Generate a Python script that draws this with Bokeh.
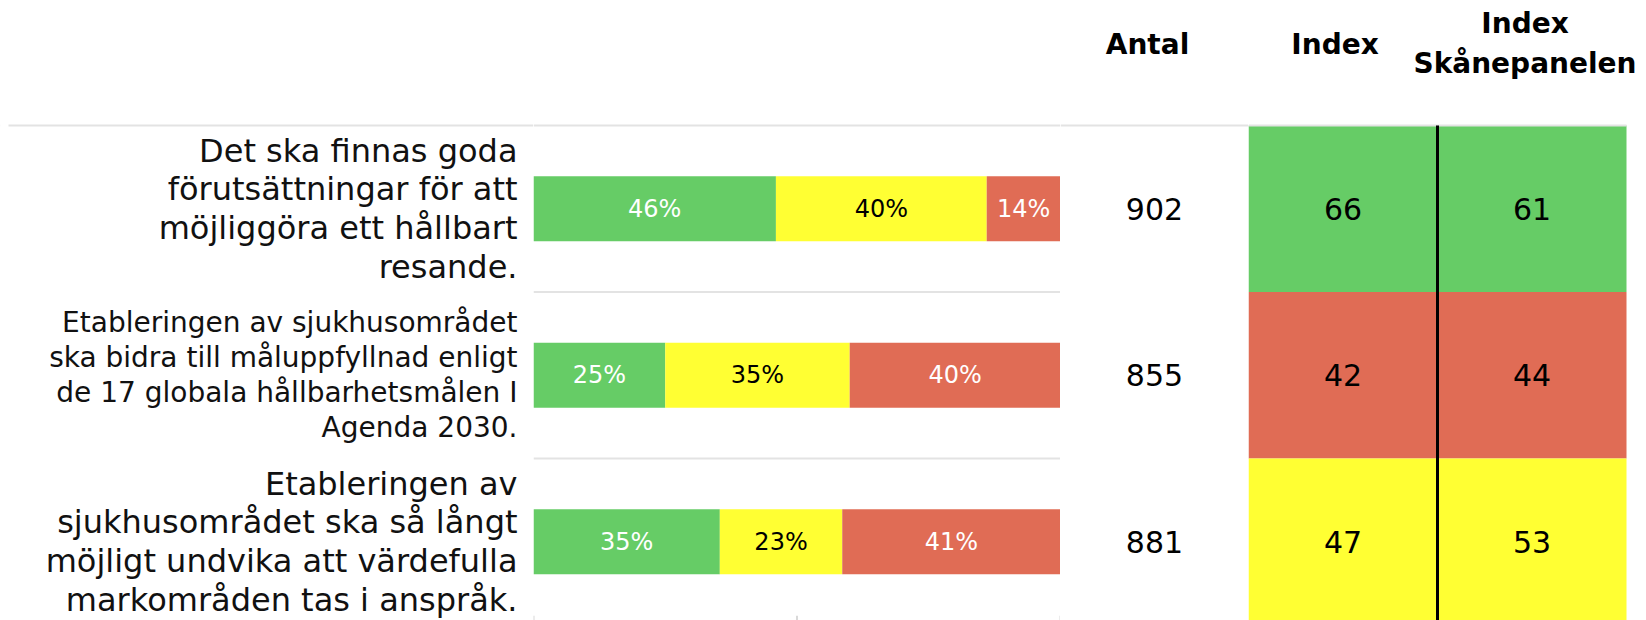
from bokeh.plotting import figure
from bokeh.layouts import row
from bokeh.models import Range1d, Span
from bokeh.core.properties import value
from bokeh.embed import file_html
from bokeh.resources import INLINE

# ---------------- data ----------------
statements = [
    "Det ska finnas goda\nförutsättningar för att\nmöjliggöra ett hållbart\nresande.",
    "Etableringen av sjukhusområdet\nska bidra till måluppfyllnad enligt\nde 17 globala hållbarhetsmålen I\nAgenda 2030.",
    "Etableringen av\nsjukhusområdet ska så långt\nmöjligt undvika att värdefulla\nmarkområden tas i anspråk.",
]
label_sizes = ["32px", "28px", "32px"]
label_line_heights = [1.02, 1.065, 1.02]
positive = [46, 25, 35]
neutral = [40, 35, 23]
negative = [14, 40, 41]
antal = [902, 855, 881]
index_vals = [66, 42, 47]
index_skane = [61, 44, 53]
col_headers = ["Antal", "Index", "Index", "Skånepanelen"]
axis_ticks = [0, 0.5, 1]

GREEN = "#66CC66"
YELLOW = "#FFFF33"
RED = "#E06C55"
GRID = "#E3E3E3"
FONT = "DejaVu Sans"

n = len(statements)
rows_y = [i + 0.5 for i in range(n)]
H = 620
y_rng = Range1d(start=2.973, end=-0.751)


def make_fig(w, xr):
    p = figure(width=w, height=H, x_range=xr, y_range=y_rng,
               toolbar_location=None, output_backend="svg",
               x_axis_location=None, y_axis_location=None, min_border=0)
    p.grid.visible = False
    p.outline_line_color = None
    return p


# ---------------- labels ----------------
pl = make_fig(533, Range1d(0, 533))
pl.add_layout(Span(location=0, dimension="width", line_color=GRID, line_width=2))
pl.add_layout(Span(location=0, dimension="height", line_color="white", line_width=16))
for i in range(n):
    pl.text(x=[517], y=[rows_y[i]], text=[statements[i]], text_font=value(FONT),
            text_font_size=label_sizes[i], text_align="right", text_baseline="middle",
            text_line_height=label_line_heights[i], text_color="#111111")

# ---------------- bars ----------------
pb = make_fig(527, Range1d(0, 1))
for b in range(n):
    pb.add_layout(Span(location=b, dimension="width", line_color=GRID, line_width=2))
tot = [p_ + u_ + n_ for p_, u_, n_ in zip(positive, neutral, negative)]
g_r = [p_ / t for p_, t in zip(positive, tot)]
y_r = [g + u_ / t for g, u_, t in zip(g_r, neutral, tot)]
r_r = [yy + n_ / t for yy, n_, t in zip(y_r, negative, tot)]
bh = 0.39
pb.hbar(y=rows_y, left=[0] * n, right=g_r, height=bh, fill_color=GREEN, line_color=None)
pb.hbar(y=rows_y, left=g_r, right=y_r, height=bh, fill_color=YELLOW, line_color=None)
pb.hbar(y=rows_y, left=y_r, right=r_r, height=bh, fill_color=RED, line_color=None)
seg_x = [g / 2 for g in g_r] + [(g + yy) / 2 for g, yy in zip(g_r, y_r)] + \
        [(yy + r) / 2 for yy, r in zip(y_r, r_r)]
seg_t = [f"{v}%" for v in positive + neutral + negative]
seg_c = ["white"] * n + ["black"] * n + ["white"] * n
pb.text(x=seg_x, y=rows_y * 3, text=seg_t, text_color=seg_c,
        text_font=value(FONT), text_font_size="24px",
        text_align="center", text_baseline="middle")
pb.segment(x0=axis_ticks, x1=axis_ticks, y0=[2.945] * len(axis_ticks),
           y1=[2.973] * len(axis_ticks), line_color="#D9D9D9", line_width=2)

# ---------------- antal ----------------
pa = make_fig(188, Range1d(0, 1))
pa.add_layout(Span(location=0, dimension="width", line_color=GRID, line_width=2))
pa.text(x=[0.5] * n, y=rows_y, text=[str(v) for v in antal], text_font=value(FONT),
        text_font_size="30px", text_align="center", text_baseline="middle",
        text_color="black")
pa.text(x=[0.5], y=[-0.486], text=[col_headers[0]], text_font=value(FONT),
        text_font_style="bold", text_font_size="28px", text_align="center",
        text_baseline="middle", text_color="black", x_offset=-7)

# ---------------- index ----------------
def cell_color(v):
    if v < 45:
        return RED
    if v < 60:
        return YELLOW
    return GREEN


pi = make_fig(390, Range1d(0, 390 / 189))
cols = [index_vals, index_skane]
for c, vals in enumerate(cols):
    pi.quad(left=[c] * n, right=[c + 1] * n, top=list(range(n)),
            bottom=[i + 1 for i in range(n)],
            fill_color=[cell_color(v) for v in vals], line_color=None)
    pi.text(x=[c + 0.5] * n, y=rows_y, text=[str(v) for v in vals],
            text_font=value(FONT), text_font_size="30px", text_align="center",
            text_baseline="middle", text_color="black")
pi.segment(x0=[0], x1=[len(cols)], y0=[0], y1=[0], line_color=GRID, line_width=2)
pi.segment(x0=[1], x1=[1], y0=[0], y1=[n], line_color="black", line_width=3)
pi.text(x=[0.5], y=[-0.486], text=[col_headers[1]], text_font=value(FONT),
        text_font_style="bold", text_font_size="28px", text_align="center",
        text_baseline="middle", text_color="black", x_offset=-8)
pi.text(x=[1.5, 1.5], y=[-0.613, -0.372], text=col_headers[2:], text_font=value(FONT),
        text_font_style="bold", text_font_size="28px", text_align="center",
        text_baseline="middle", text_color="black", x_offset=-7)

layout = row(pl, pb, pa, pi, spacing=0)
open("out.html", "w").write(file_html(layout, INLINE))
